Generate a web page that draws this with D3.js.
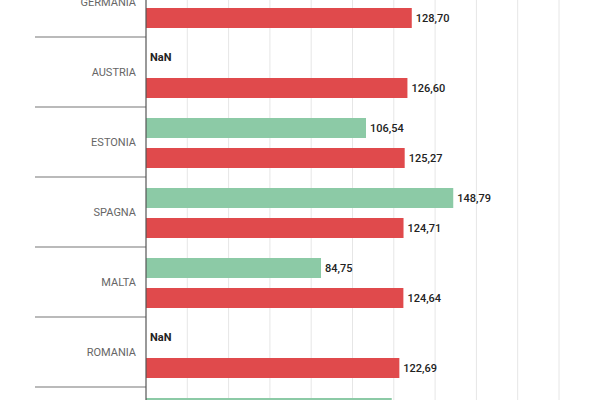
<!DOCTYPE html>
<html><head><meta charset="utf-8">
<script src="https://cdn.jsdelivr.net/npm/d3@7"></script>
<style>body{margin:0;background:#fff}text{font-family:Roboto,sans-serif}</style>
</head><body><svg id="c" width="600" height="400"></svg>
<script>
const countries=["GERMANIA","AUSTRIA","ESTONIA","SPAGNA","MALTA","ROMANIA","NEXT"];
const greenVals=[130,null,106.54,148.79,84.75,null,119];
const redVals=[128.70,126.60,125.27,124.71,124.64,122.69,120];
const xTicks=d3.range(0,201,20);
const svg=d3.select("#c");
const x=d3.scaleLinear().domain([0,200]).range([146,559]);
const y=d3.scaleBand().domain(countries).range([-33,-33+70*countries.length]);
svg.append("g").selectAll("line").data(xTicks.slice(1)).join("line")
 .attr("x1",d=>x(d)).attr("x2",d=>x(d)).attr("y1",0).attr("y2",400)
 .attr("stroke","#e6e6e6").attr("stroke-width",1);
const fmt=v=>v.toFixed(2).replace(".",",");
const g=svg.append("g").selectAll("g").data(countries).join("g");
g.append("line").attr("x1",35).attr("x2",146).attr("y1",d=>y(d)).attr("y2",d=>y(d)).attr("stroke","#777").attr("stroke-width",1.2);
g.append("text").attr("x",136).attr("y",d=>y(d)+35).attr("dy","0.35em").attr("text-anchor","end")
 .attr("fill","#666").attr("font-size",11).text(d=>d==="NEXT"?"":d);
const vis=yy=>yy>6&&yy<394;
countries.forEach((c,i)=>{
 const y0=y(c);
 const gv=greenVals[i], rv=redVals[i];
 if(gv!=null){
  svg.append("rect").attr("x",x(0)).attr("y",y0+11).attr("width",x(gv)-x(0)).attr("height",20).attr("fill","#8ccaa6");
 }
 const gy=gv!=null?y0+21:y0+20;
 if(vis(gy)) svg.append("text").attr("x",gv!=null?x(gv)+4:x(0)+4).attr("y",gy).attr("dy","0.35em")
  .attr("font-size",11).attr("font-weight",gv!=null?500:"bold").attr("fill","#222").text(gv!=null?fmt(gv):"NaN");
 svg.append("rect").attr("x",x(0)).attr("y",y0+41).attr("width",x(rv)-x(0)).attr("height",20).attr("fill","#e04a4c");
 if(vis(y0+51)) svg.append("text").attr("x",x(rv)+4).attr("y",y0+51).attr("dy","0.35em").attr("font-size",11).attr("font-weight",500).attr("fill","#222").text(fmt(rv));
});
svg.append("line").attr("x1",146).attr("x2",146).attr("y1",0).attr("y2",400).attr("stroke","#555").attr("stroke-width",1.2);
</script></body></html>
